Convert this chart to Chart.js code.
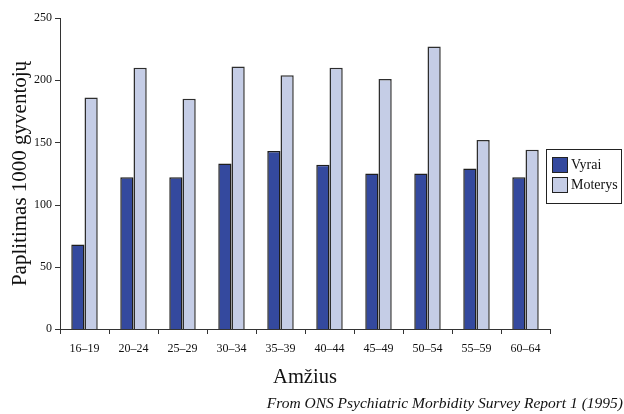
<!DOCTYPE html>
<html>
<head>
<meta charset="utf-8">
<script src="https://cdn.jsdelivr.net/npm/chart.js@4.4.1/dist/chart.umd.min.js"></script>
<style>
  html, body { margin: 0; padding: 0; background: #fff; }
  #wrap { position: relative; width: 624px; height: 414px; }
  #legend {
    position: absolute; left: 546px; top: 149px; width: 74px; height: 53px;
    border: 1px solid #222; font-family: 'Liberation Serif', serif; font-size: 14px; color: #111;
  }
  #legend .item { position: absolute; left: 5px; height: 16px; line-height: 16px; }
  #legend .sw { display: inline-block; width: 14px; height: 14px; border: 1px solid #222; vertical-align: top; margin-right: 3px; }
  #footer {
    position: absolute; right: 1px; top: 394px;
    font-family: 'Liberation Serif', serif; font-style: italic; font-size: 15.5px; color: #111;
  }
</style>
</head>
<body>
<div id="wrap">
  <canvas id="barChart" width="624" height="414"></canvas>
  <div id="legend"></div>
  <div id="footer">From ONS Psychiatric Morbidity Survey Report 1 (1995)</div>
</div>
<script>
  // data
  var ageGroups = ['16–19', '20–24', '25–29', '30–34', '35–39', '40–44', '45–49', '50–54', '55–59', '60–64'];
  var vyrai = [68, 122, 122, 133, 143, 132, 125, 125, 129, 122];
  var moterys = [186, 210, 185, 211, 204, 210, 201, 227, 152, 144];
  var yTicks = [0, 50, 100, 150, 200, 250];

  var darkBlue = '#34499e';
  var lightBlue = '#c5cde6';
  var serif = 'Liberation Serif';

  var chartData = {
    labels: ageGroups,
    datasets: [{
        label: 'Vyrai',
        backgroundColor: darkBlue,
        borderColor: '#1e1e1e',
        data: vyrai
      },
      {
        label: 'Moterys',
        backgroundColor: lightBlue,
        borderColor: '#2e2e2e',
        data: moterys
      }
    ]
  }

  var chartOptions = {
    responsive: false,
    animation: false,
    layout: { padding: { left: 0, right: 74, top: 18, bottom: 20 } },
    datasets: {
      bar: { borderWidth: 1.5, categoryPercentage: 0.54, barPercentage: 1, borderSkipped: 'bottom' }
    },
    plugins: { legend: { display: false }, tooltip: { enabled: false } },
    scales: {
      x: {
        grid: { display: false, drawTicks: false },
        border: { color: '#333', width: 1 },
        ticks: { color: '#111', font: { family: serif, size: 12 }, padding: 13 },
        title: { display: true, text: 'Amžius', color: '#111', font: { family: serif, size: 20.5 }, padding: { top: 4, bottom: 4 } },
        afterFit: function(scale) { scale.height = 65; }
      },
      y: {
        min: 0,
        max: 250,
        grid: { display: false, drawTicks: false },
        border: { color: '#333', width: 1 },
        afterBuildTicks: function(scale) { scale.ticks = yTicks.map(function(v) { return { value: v }; }); },
        ticks: { color: '#111', font: { family: serif, size: 12 }, padding: 8 },
        title: { display: true, text: 'Paplitimas 1000 gyventojų', color: '#111', font: { family: serif, size: 21 }, padding: { top: 8, bottom: 8 } },
        afterFit: function(scale) { scale.width = 60; }
      }
    }
  }

  // outside tick marks
  var tickMarks = {
    id: 'tickMarks',
    afterDraw: function(chart) {
      var ctx = chart.ctx;
      var ys = chart.scales.y;
      var area = chart.chartArea;
      ctx.save();
      ctx.strokeStyle = '#333';
      ctx.lineWidth = 1;
      ctx.beginPath();
      yTicks.forEach(function(v) {
        var y = Math.round(ys.getPixelForValue(v)) + 0.5;
        ctx.moveTo(area.left - 5, y);
        ctx.lineTo(area.left, y);
      });
      for (var i = 0; i <= ageGroups.length; i++) {
        var x = Math.round(area.left + (area.right - area.left) * i / ageGroups.length) + 0.5;
        ctx.moveTo(x, area.bottom);
        ctx.lineTo(x, area.bottom + 5);
      }
      ctx.stroke();
      ctx.restore();
    }
  }

  var barChart = new Chart(document.getElementById('barChart').getContext('2d'), {
    type: 'bar',
    data: chartData,
    options: chartOptions,
    plugins: [tickMarks]
  });

  // legend
  var legendEl = document.getElementById('legend');
  chartData.datasets.forEach(function(ds, i) {
    var item = document.createElement('div');
    item.className = 'item';
    item.style.top = (7 + i * 20) + 'px';
    item.innerHTML = '<span class="sw" style="background:' + ds.backgroundColor + '"></span>' + ds.label;
    legendEl.appendChild(item);
  });
</script>
</body>
</html>
